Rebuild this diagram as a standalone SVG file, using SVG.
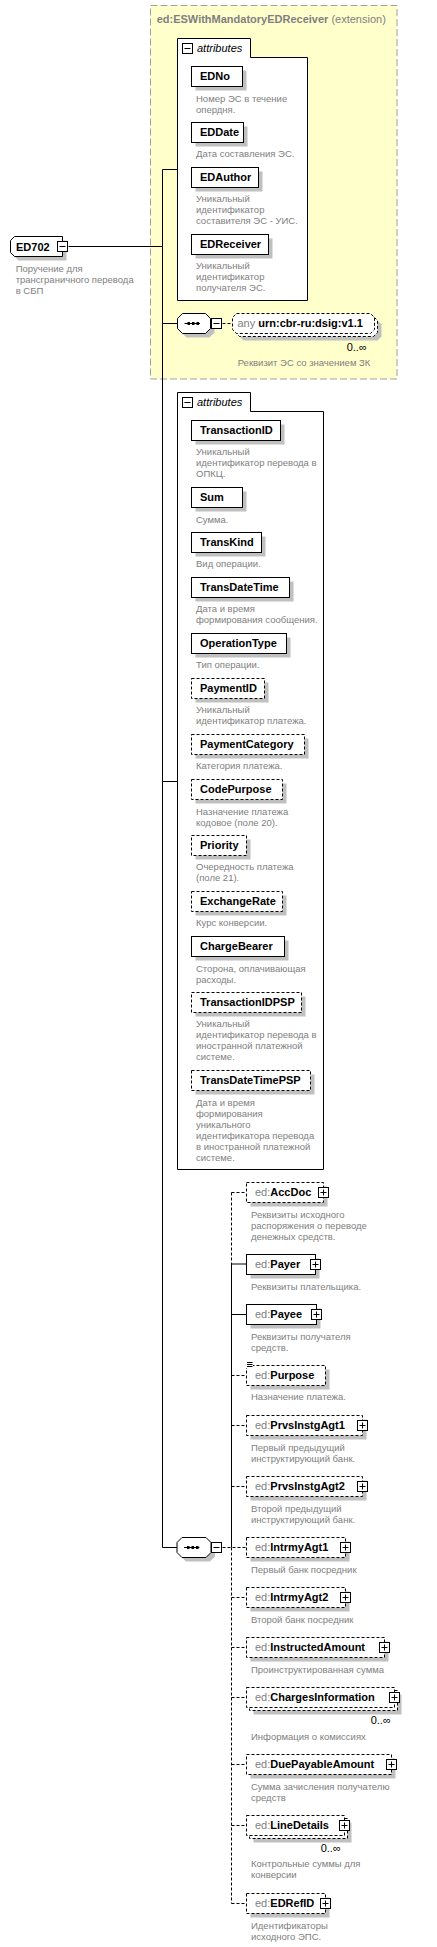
<svg xmlns="http://www.w3.org/2000/svg" xmlns:xlink="http://www.w3.org/1999/xlink" width="437" height="1947" viewBox="0 0 437 1947">
<style>
.n{font-family:"Liberation Sans",Arial,sans-serif;font-size:11px;font-weight:bold;fill:#000}
.p{font-family:"Liberation Sans",Arial,sans-serif;font-size:11px;font-weight:normal;fill:#808080}
.pb{font-family:"Liberation Sans",Arial,sans-serif;font-size:11px;font-weight:bold;fill:#808080}
.i{font-family:"Liberation Sans",Arial,sans-serif;font-size:11px;font-style:italic;fill:#000}
.o{font-family:"Liberation Sans",Arial,sans-serif;font-size:11px;fill:#000}
.d{font-family:"Liberation Sans",Arial,sans-serif;font-size:9.5px;font-weight:normal;fill:#808080}
.b{fill:#fff;stroke:#000;stroke-width:1}
.bd{fill:#fff;stroke:#000;stroke-width:1;stroke-dasharray:3,2}
.sh{fill:#c0c0c0}
.c{stroke:#000;stroke-width:1;fill:none}
.cd{stroke:#000;stroke-width:1;fill:none;stroke-dasharray:3,2}
.ext{fill:#ffffcc;stroke:#a0a0a0;stroke-width:1;stroke-dasharray:7,3}
</style>
<defs>
<g id="pl"><rect x="0.5" y="0.5" width="10" height="10" fill="#fff" stroke="#000"/><path d="M2.5,5.5H8.5M5.5,2.5V8.5" stroke="#000"/></g>
<g id="mi"><rect x="0.5" y="0.5" width="10" height="10" fill="#fff" stroke="#000"/><path d="M2.5,5.5H8.5" stroke="#000"/></g>
</defs>

<g id="extension">
<rect class="ext" x="150.5" y="5.5" width="246.5" height="373.5"/>
<text class="pb" x="156.7" y="22.7">ed:ESWithMandatoryEDReceiver<tspan class="p"> (extension)</tspan></text>
</g>

<g id="connectors">
<path class="c" d="M68.5,246.5H162.5M162.5,169.5V1547.5M162.5,169.5H177.5M162.5,323.5H177.5M162.5,781.5H177.5M162.5,1547.5H177"/>
<path class="cd" d="M222.5,323.5H232.5"/>
<path class="cd" d="M231.5,1192.5V1264M231.5,1547.5V1903.5"/>
<path class="c" d="M231.5,1264V1547.5"/>
<path class="c" d="M231.5,1264H246.5M231.5,1314.5H246.5"/>
<path class="cd" d="M231.5,1192.5H246.5M231.5,1375.5H246.5M231.5,1425.5H246.5M231.5,1486.5H246.5M222.5,1547.5H246.5M231.5,1597.5H246.5M231.5,1647.5H246.5M231.5,1697.5H246.5M231.5,1764.5H246.5M231.5,1825.5H246.5M231.5,1903.5H246.5"/>
</g>

<g id="ED702">
<path class="sh" d="M18.5,240.5H66.5V260.5H18.5L14.5,256.5V244.5Z"/>
<path class="b" d="M14.5,236.5H62.5V256.5H14.5L10.5,252.5V240.5Z"/>
<text class="n" x="16" y="250.5">ED702</text>
<use href="#mi" x="57" y="241"/>
<text class="d" x="15.7" y="271.7">Поручение для</text>
<text class="d" x="15.7" y="282.7">трансграничного перевода</text>
<text class="d" x="15.7" y="293.7">в СБП</text>
</g>

<g id="attributes1">
<path class="b" d="M177.5,38.5H250.5V57.5H307.5V300.5H177.5Z"/>
<use href="#mi" x="182" y="43"/>
<text class="i" x="197" y="52">attributes</text>
</g>

<g id="EDNo">
<rect class="sh" x="195.5" y="70.5" width="51" height="20"/>
<rect class="b" x="191.5" y="66.5" width="51" height="20"/>
<text class="n" x="200" y="80">EDNo</text>
<text class="d" x="196" y="101.7">Номер ЭС в течение</text>
<text class="d" x="196" y="112.7">опердня.</text>
</g>
<g id="EDDate">
<rect class="sh" x="195.5" y="126.5" width="52" height="20"/>
<rect class="b" x="191.5" y="122.5" width="52" height="20"/>
<text class="n" x="200" y="136">EDDate</text>
<text class="d" x="196" y="157.3">Дата составления ЭС.</text>
</g>
<g id="EDAuthor">
<rect class="sh" x="195.5" y="171.5" width="67" height="20"/>
<rect class="b" x="191.5" y="167.5" width="67" height="20"/>
<text class="n" x="200" y="181">EDAuthor</text>
<text class="d" x="196" y="202.3">Уникальный</text>
<text class="d" x="196" y="213.3">идентификатор</text>
<text class="d" x="196" y="224.3">составителя ЭС - УИС.</text>
</g>
<g id="EDReceiver">
<rect class="sh" x="195.5" y="238.5" width="77" height="20"/>
<rect class="b" x="191.5" y="234.5" width="77" height="20"/>
<text class="n" x="200" y="248">EDReceiver</text>
<text class="d" x="196" y="269.3">Уникальный</text>
<text class="d" x="196" y="280.3">идентификатор</text>
<text class="d" x="196" y="291.3">получателя ЭС.</text>
</g>

<g id="sequence1">
<path class="sh" d="M186.5,317.5H209.5L214.5,322.5V332.5L209.5,337.5H186.5L181.5,332.5V322.5Z"/>
<path class="b" d="M182.5,313.5H205.5L210.5,318.5V328.5L205.5,333.5H182.5L177.5,328.5V318.5Z"/>
<path class="c" d="M184.5,323.5H200"/>
<rect x="187.5" y="322" width="2.5" height="3"/><rect x="192" y="322" width="2.5" height="3"/><rect x="196.5" y="322" width="2.5" height="3"/>
<use href="#mi" x="211" y="318"/>
</g>

<g id="any">
<path class="sh" d="M243.5,320.5H377.5L381.5,324.5V336.5L377.5,340.5H243.5L239.5,336.5V324.5Z"/>
<path class="bd" d="M239.5,316.5H373.5L377.5,320.5V332.5L373.5,336.5H239.5L235.5,332.5V320.5Z"/>
<path class="bd" d="M236.5,313.5H370.5L374.5,317.5V329.5L370.5,333.5H236.5L232.5,329.5V317.5Z"/>
<text class="p" x="237.5" y="327">any <tspan class="n">urn:cbr-ru:dsig:v1.1</tspan></text>
<text class="o" x="346.7" y="350.7">0..∞</text>
<text class="d" x="237.7" y="365.7">Реквизит ЭС со значением ЗК</text>
</g>

<g id="attributes2">
<path class="b" d="M177.5,392.5H250.5V411.5H323.5V1169.5H177.5Z"/>
<use href="#mi" x="182" y="397"/>
<text class="i" x="197" y="406">attributes</text>
</g>

<g id="TransactionID">
<rect class="sh" x="195.5" y="424.5" width="89" height="20"/>
<rect class="b" x="191.5" y="420.5" width="89" height="20"/>
<text class="n" x="200" y="434">TransactionID</text>
<text class="d" x="196" y="455">Уникальный</text>
<text class="d" x="196" y="466">идентификатор перевода в</text>
<text class="d" x="196" y="477">ОПКЦ.</text>
</g>
<g id="Sum">
<rect class="sh" x="195.5" y="491.5" width="51" height="20"/>
<rect class="b" x="191.5" y="487.5" width="51" height="20"/>
<text class="n" x="200" y="501">Sum</text>
<text class="d" x="196" y="522.7">Сумма.</text>
</g>
<g id="TransKind">
<rect class="sh" x="195.5" y="536.5" width="70" height="20"/>
<rect class="b" x="191.5" y="532.5" width="70" height="20"/>
<text class="n" x="200" y="546">TransKind</text>
<text class="d" x="196" y="567.3">Вид операции.</text>
</g>
<g id="TransDateTime">
<rect class="sh" x="195.5" y="581.5" width="98" height="20"/>
<rect class="b" x="191.5" y="577.5" width="98" height="20"/>
<text class="n" x="200" y="591">TransDateTime</text>
<text class="d" x="196" y="612.3">Дата и время</text>
<text class="d" x="196" y="623.3">формирования сообщения.</text>
</g>
<g id="OperationType">
<rect class="sh" x="195.5" y="637.5" width="95" height="20"/>
<rect class="b" x="191.5" y="633.5" width="95" height="20"/>
<text class="n" x="200" y="647">OperationType</text>
<text class="d" x="196" y="668.3">Тип операции.</text>
</g>
<g id="PaymentID">
<rect class="sh" x="195.5" y="682.5" width="73" height="20"/>
<rect class="bd" x="191.5" y="678.5" width="73" height="20"/>
<text class="n" x="200" y="692">PaymentID</text>
<text class="d" x="196" y="713.3">Уникальный</text>
<text class="d" x="196" y="724.3">идентификатор платежа.</text>
</g>
<g id="PaymentCategory">
<rect class="sh" x="195.5" y="738.5" width="113" height="20"/>
<rect class="bd" x="191.5" y="734.5" width="113" height="20"/>
<text class="n" x="200" y="748">PaymentCategory</text>
<text class="d" x="196" y="769.3">Категория платежа.</text>
</g>
<g id="CodePurpose">
<rect class="sh" x="195.5" y="783.5" width="91" height="20"/>
<rect class="bd" x="191.5" y="779.5" width="91" height="20"/>
<text class="n" x="200" y="793">CodePurpose</text>
<text class="d" x="196" y="814.7">Назначение платежа</text>
<text class="d" x="196" y="825.7">кодовое (поле 20).</text>
</g>
<g id="Priority">
<rect class="sh" x="195.5" y="839.5" width="55" height="20"/>
<rect class="bd" x="191.5" y="835.5" width="55" height="20"/>
<text class="n" x="200" y="849">Priority</text>
<text class="d" x="196" y="870.3">Очередность платежа</text>
<text class="d" x="196" y="881.3">(поле 21).</text>
</g>
<g id="ExchangeRate">
<rect class="sh" x="195.5" y="895.5" width="91" height="20"/>
<rect class="bd" x="191.5" y="891.5" width="91" height="20"/>
<text class="n" x="200" y="905">ExchangeRate</text>
<text class="d" x="196" y="926.3">Курс конверсии.</text>
</g>
<g id="ChargeBearer">
<rect class="sh" x="195.5" y="940.5" width="93" height="20"/>
<rect class="b" x="191.5" y="936.5" width="93" height="20"/>
<text class="n" x="200" y="950">ChargeBearer</text>
<text class="d" x="196" y="971.7">Сторона, оплачивающая</text>
<text class="d" x="196" y="982.7">расходы.</text>
</g>
<g id="TransactionIDPSP">
<rect class="sh" x="195.5" y="996.5" width="110" height="20"/>
<rect class="bd" x="191.5" y="992.5" width="110" height="20"/>
<text class="n" x="200" y="1006">TransactionIDPSP</text>
<text class="d" x="196" y="1027.3">Уникальный</text>
<text class="d" x="196" y="1038.3">идентификатор перевода в</text>
<text class="d" x="196" y="1049.3">иностранной платежной</text>
<text class="d" x="196" y="1060.3">системе.</text>
</g>
<g id="TransDateTimePSP">
<rect class="sh" x="195.5" y="1074.5" width="119" height="20"/>
<rect class="bd" x="191.5" y="1070.5" width="119" height="20"/>
<text class="n" x="200" y="1084">TransDateTimePSP</text>
<text class="d" x="196" y="1106">Дата и время</text>
<text class="d" x="196" y="1117">формирования</text>
<text class="d" x="196" y="1128">уникального</text>
<text class="d" x="196" y="1139">идентификатора перевода</text>
<text class="d" x="196" y="1150">в иностранной платежной</text>
<text class="d" x="196" y="1161">системе.</text>
</g>

<g id="sequence2">
<path class="sh" d="M186,1541.5H210L215,1546.5V1556.5L210,1561.5H186L181,1556.5V1546.5Z"/>
<path class="b" d="M182,1537.5H206L211,1542.5V1552.5L206,1557.5H182L177,1552.5V1542.5Z"/>
<path class="c" d="M184,1547.5H199.5"/>
<rect x="187" y="1546" width="2.5" height="3"/><rect x="191.5" y="1546" width="2.5" height="3"/><rect x="196" y="1546" width="2.5" height="3"/>
<use href="#mi" x="211" y="1542"/>
</g>

<g id="AccDoc">
<rect class="sh" x="250.5" y="1186.5" width="77" height="20"/>
<rect class="bd" x="246.5" y="1182.5" width="77" height="20"/>
<text class="p" x="255" y="1196">ed:<tspan class="n">AccDoc</tspan></text>
<use href="#pl" x="318" y="1187"/>
<text class="d" x="251" y="1217.7">Реквизиты исходного</text>
<text class="d" x="251" y="1228.7">распоряжения о переводе</text>
<text class="d" x="251" y="1239.5">денежных средств.</text>
</g>
<g id="Payer">
<rect class="sh" x="250.5" y="1258.5" width="69" height="20"/>
<rect class="b" x="246.5" y="1254.5" width="69" height="20"/>
<text class="p" x="255" y="1268">ed:<tspan class="n">Payer</tspan></text>
<use href="#pl" x="310" y="1259"/>
<text class="d" x="251" y="1290">Реквизиты плательщика.</text>
</g>
<g id="Payee">
<rect class="sh" x="250.5" y="1308.5" width="70" height="20"/>
<rect class="b" x="246.5" y="1304.5" width="70" height="20"/>
<text class="p" x="255" y="1318">ed:<tspan class="n">Payee</tspan></text>
<use href="#pl" x="311" y="1309"/>
<text class="d" x="251" y="1340">Реквизиты получателя</text>
<text class="d" x="251" y="1351">средств.</text>
</g>
<g id="Purpose">
<rect class="sh" x="250.5" y="1369.5" width="79" height="20"/>
<rect class="bd" x="246.5" y="1365.5" width="79" height="20"/>
<rect x="246" y="1362" width="7" height="6" fill="#fff"/>
<path class="c" d="M247,1362.5H252.5M247,1364.5H252.5M247,1366.5H252.5"/>
<text class="p" x="255" y="1379">ed:<tspan class="n">Purpose</tspan></text>
<text class="d" x="251" y="1400">Назначение платежа.</text>
</g>
<g id="PrvsInstgAgt1">
<rect class="sh" x="250.5" y="1419.5" width="116" height="20"/>
<rect class="bd" x="246.5" y="1415.5" width="116" height="20"/>
<text class="p" x="255" y="1429">ed:<tspan class="n">PrvsInstgAgt1</tspan></text>
<use href="#pl" x="357" y="1420"/>
<text class="d" x="251" y="1450.7">Первый предыдущий</text>
<text class="d" x="251" y="1461.7">инструктирующий банк.</text>
</g>
<g id="PrvsInstgAgt2">
<rect class="sh" x="250.5" y="1480.5" width="116" height="20"/>
<rect class="bd" x="246.5" y="1476.5" width="116" height="20"/>
<text class="p" x="255" y="1490">ed:<tspan class="n">PrvsInstgAgt2</tspan></text>
<use href="#pl" x="357" y="1481"/>
<text class="d" x="251" y="1511.7">Второй предыдущий</text>
<text class="d" x="251" y="1522.7">инструктирующий банк.</text>
</g>
<g id="IntrmyAgt1">
<rect class="sh" x="250.5" y="1541.5" width="99" height="20"/>
<rect class="bd" x="246.5" y="1537.5" width="99" height="20"/>
<text class="p" x="255" y="1551">ed:<tspan class="n">IntrmyAgt1</tspan></text>
<use href="#pl" x="340" y="1542"/>
<text class="d" x="251" y="1572.7">Первый банк посредник</text>
</g>
<g id="IntrmyAgt2">
<rect class="sh" x="250.5" y="1591.5" width="99" height="20"/>
<rect class="bd" x="246.5" y="1587.5" width="99" height="20"/>
<text class="p" x="255" y="1601">ed:<tspan class="n">IntrmyAgt2</tspan></text>
<use href="#pl" x="340" y="1592"/>
<text class="d" x="251" y="1622.5">Второй банк посредник</text>
</g>
<g id="InstructedAmount">
<rect class="sh" x="250.5" y="1641.5" width="138" height="20"/>
<rect class="bd" x="246.5" y="1637.5" width="138" height="20"/>
<text class="p" x="255" y="1651">ed:<tspan class="n">InstructedAmount</tspan></text>
<use href="#pl" x="379" y="1642"/>
<text class="d" x="251" y="1672.7">Проинструктированная сумма</text>
</g>
<g id="ChargesInformation">
<rect class="sh" x="253.5" y="1694.5" width="148" height="20"/>
<rect class="bd" x="249.5" y="1690.5" width="148" height="20"/>
<rect class="bd" x="246.5" y="1687.5" width="148" height="20"/>
<text class="p" x="255" y="1701">ed:<tspan class="n">ChargesInformation</tspan></text>
<use href="#pl" x="389" y="1692"/>
<text class="o" x="370.7" y="1724.3">0..∞</text>
<text class="d" x="251" y="1740">Информация о комиссиях</text>
</g>
<g id="DuePayableAmount">
<rect class="sh" x="250.5" y="1758.5" width="145" height="20"/>
<rect class="bd" x="246.5" y="1754.5" width="145" height="20"/>
<text class="p" x="255" y="1768">ed:<tspan class="n">DuePayableAmount</tspan></text>
<use href="#pl" x="386" y="1759"/>
<text class="d" x="251" y="1789.7">Сумма зачисления получателю</text>
<text class="d" x="251" y="1800.7">средств</text>
</g>
<g id="LineDetails">
<rect class="sh" x="253.5" y="1822.5" width="98" height="20"/>
<rect class="bd" x="249.5" y="1818.5" width="98" height="20"/>
<rect class="bd" x="246.5" y="1815.5" width="98" height="20"/>
<text class="p" x="255" y="1829">ed:<tspan class="n">LineDetails</tspan></text>
<use href="#pl" x="339" y="1820"/>
<text class="o" x="320.7" y="1852.3">0..∞</text>
<text class="d" x="251" y="1867.3">Контрольные суммы для</text>
<text class="d" x="251" y="1878.3">конверсии</text>
</g>
<g id="EDRefID">
<rect class="sh" x="250.5" y="1897.5" width="79" height="20"/>
<rect class="bd" x="246.5" y="1893.5" width="79" height="20"/>
<text class="p" x="255" y="1907">ed:<tspan class="n">EDRefID</tspan></text>
<use href="#pl" x="320" y="1898"/>
<text class="d" x="251" y="1928.7">Идентификаторы</text>
<text class="d" x="251" y="1939.7">исходного ЭПС.</text>
</g>
</svg>
